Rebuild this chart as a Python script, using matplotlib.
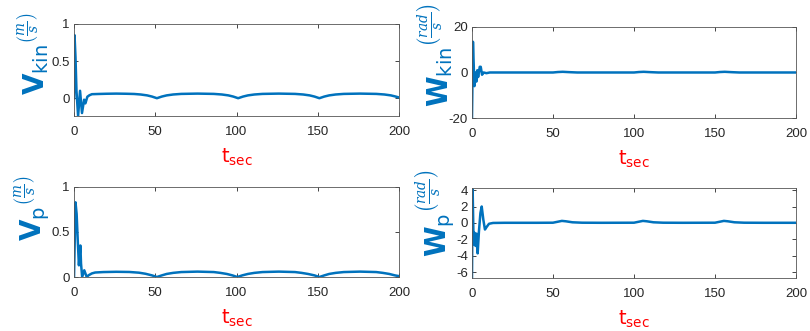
import numpy as np
import matplotlib.pyplot as plt

# values
t_vkin = [0, 0.3, 0.9, 1.5, 2.5, 3.7, 4.9, 6.2, 7.0, 8.2, 9.5, 11, 15, 20, 26, 32, 37, 41, 45, 48,
          51, 54, 57, 61, 66, 76, 86, 91, 95, 98,
          101, 104, 107, 111, 116, 126, 136, 141, 145, 148,
          151, 154, 157, 161, 166, 176, 186, 191, 195, 198, 200]
v_kin = [0.0, 0.85, 0.55, 0.1, -0.24, 0.1, -0.2, -0.02, -0.07, 0.02, 0.04, 0.054, 0.057, 0.06, 0.062, 0.06, 0.057, 0.05, 0.038, 0.022,
         0.0, 0.022, 0.038, 0.05, 0.058, 0.062, 0.058, 0.05, 0.038, 0.022,
         0.0, 0.022, 0.038, 0.05, 0.058, 0.062, 0.058, 0.05, 0.038, 0.022,
         0.0, 0.022, 0.038, 0.05, 0.058, 0.062, 0.058, 0.05, 0.038, 0.022, 0.01]

t_wkin = [0, 0.6, 1.5, 2.1, 2.7, 3.3, 3.8, 4.8, 5.4, 6.2, 7.2, 8.9, 11, 20, 40,
          50, 53, 56, 60, 65, 80, 100, 103, 106, 110, 115, 130, 150, 153, 156, 160, 165, 180, 200]
w_kin = [-20, 13.5, -6, 0, -4, 1, -2, 2.5, 2.5, -1, 0, -0.3, 0, 0, 0,
         0, 0.2, 0.3, 0.15, 0, 0, 0, 0.2, 0.3, 0.15, 0, 0, 0, 0.2, 0.3, 0.15, 0, 0, 0]

t_vp = [0, 0.9, 1.6, 2.3, 3.0, 3.9, 4.3, 5.0, 6.3, 7.8, 9, 11, 13, 18, 26, 34, 40, 44, 48,
        51, 54, 57, 61, 66, 76, 86, 90, 94, 97.5,
        100.5, 103.5, 107, 111, 116, 126, 136, 140, 144, 148,
        151, 154, 157, 161, 166, 176, 186, 190, 194, 197.5, 200]
v_p = [0, 0.83, 0.7, 0.4, 0.13, 0.35, 0.15, 0.0, 0.075, 0.0, 0.02, 0.04, 0.05, 0.055, 0.058, 0.056, 0.048, 0.036, 0.018,
       0.0, 0.018, 0.034, 0.046, 0.055, 0.06, 0.055, 0.046, 0.034, 0.018,
       0.0, 0.018, 0.034, 0.046, 0.055, 0.06, 0.055, 0.046, 0.034, 0.018,
       0.0, 0.018, 0.034, 0.046, 0.055, 0.06, 0.055, 0.046, 0.034, 0.018, 0.01]

t_wp = [0, 0.4, 1.0, 1.6, 2.2, 2.8, 3.5, 4.3, 5.2, 6.0, 7.0, 8.0, 9.0, 10.5, 13, 20, 40,
        50, 53, 55.5, 58, 62, 68, 80, 100, 103, 105.5, 108, 112, 118, 130,
        150, 153, 155.5, 158, 162, 168, 180, 200]
w_p = [-6.7, 4.1, -2.6, -1.2, -2.8, -1.3, -3.7, -1.0, 1.2, 2.0, 0.4, -0.8, -0.5, -0.1, 0.0, 0.02, 0.02,
       0.03, 0.15, 0.25, 0.2, 0.08, 0.03, 0.02, 0.03, 0.15, 0.25, 0.2, 0.08, 0.03, 0.02,
       0.03, 0.15, 0.25, 0.2, 0.08, 0.03, 0.02, 0.02]

x_ticks = [0, 50, 100, 150, 200]

plt.rcParams['font.family'] = ['Liberation Sans', 'DejaVu Sans']
plt.rcParams['mathtext.fontset'] = 'custom'
plt.rcParams['mathtext.rm'] = 'DejaVu Sans'
plt.rcParams['mathtext.bf'] = 'DejaVu Sans:bold'
plt.rcParams['mathtext.it'] = 'DejaVu Serif:italic'

blue = '#0072BD'
fig = plt.figure(figsize=(8.1, 3.31), dpi=100)

panels = [
    ([0.0914, 0.6495, 0.4012, 0.278], t_vkin, v_kin, (-0.24, 1), [0, 0.5, 1], ['0', '0.5', '1'],
     r'${\mathbf{V}_{\mathrm{kin}}}^{\left(\frac{m}{s}\right)}$', (0.042, 0.838)),
    ([0.5827, 0.6435, 0.400, 0.275], t_wkin, w_kin, (-20, 20), [-20, 0, 20], ['-20', '0', '20'],
     r'${\mathbf{W}_{\mathrm{kin}}}^{\left(\frac{rad}{s}\right)}$', (0.537, 0.835)),
    ([0.0914, 0.1631, 0.4012, 0.272], t_vp, v_p, (0, 1), [0, 0.5, 1], ['0', '0.5', '1'],
     r'${\mathbf{V}_{\mathrm{p}}}^{\left(\frac{m}{s}\right)}$', (0.039, 0.372)),
    ([0.5827, 0.160, 0.400, 0.272], t_wp, w_p, (-6.7, 4.25), [-6, -4, -2, 0, 2, 4],
     ['-6', '-4', '-2', '0', '2', '4'],
     r'${\mathbf{W}_{\mathrm{p}}}^{\left(\frac{rad}{s}\right)}$', (0.537, 0.355)),
]

for rect, t, y, ylim, yt, ytl, lab, lpos in panels:
    ax = fig.add_axes(rect)
    ax.plot(t, y, color=blue, lw=1.8, solid_joinstyle='round')
    ax.set_xlim(0, 200)
    ax.set_ylim(*ylim)
    ax.set_xticks(x_ticks)
    ax.set_xticklabels([str(v) for v in x_ticks])
    ax.set_yticks(yt)
    ax.set_yticklabels(ytl)
    ax.tick_params(direction='in', length=3, width=0.6, top=True, right=True,
                   labelsize=9.5, colors='#262626')
    ax.tick_params(axis='x', pad=7)
    ax.tick_params(axis='y', pad=3)
    for s in ax.spines.values():
        s.set_color('#555555')
        s.set_linewidth(0.6)
    ax.set_xlabel(r'$\mathrm{t}_{\mathrm{sec}}$', color='red', fontsize=14, labelpad=6)
    fig.text(lpos[0], lpos[1], lab, rotation=90, ha='center', va='center',
             color=blue, fontsize=20)

fig.savefig('out.png', dpi=100)
